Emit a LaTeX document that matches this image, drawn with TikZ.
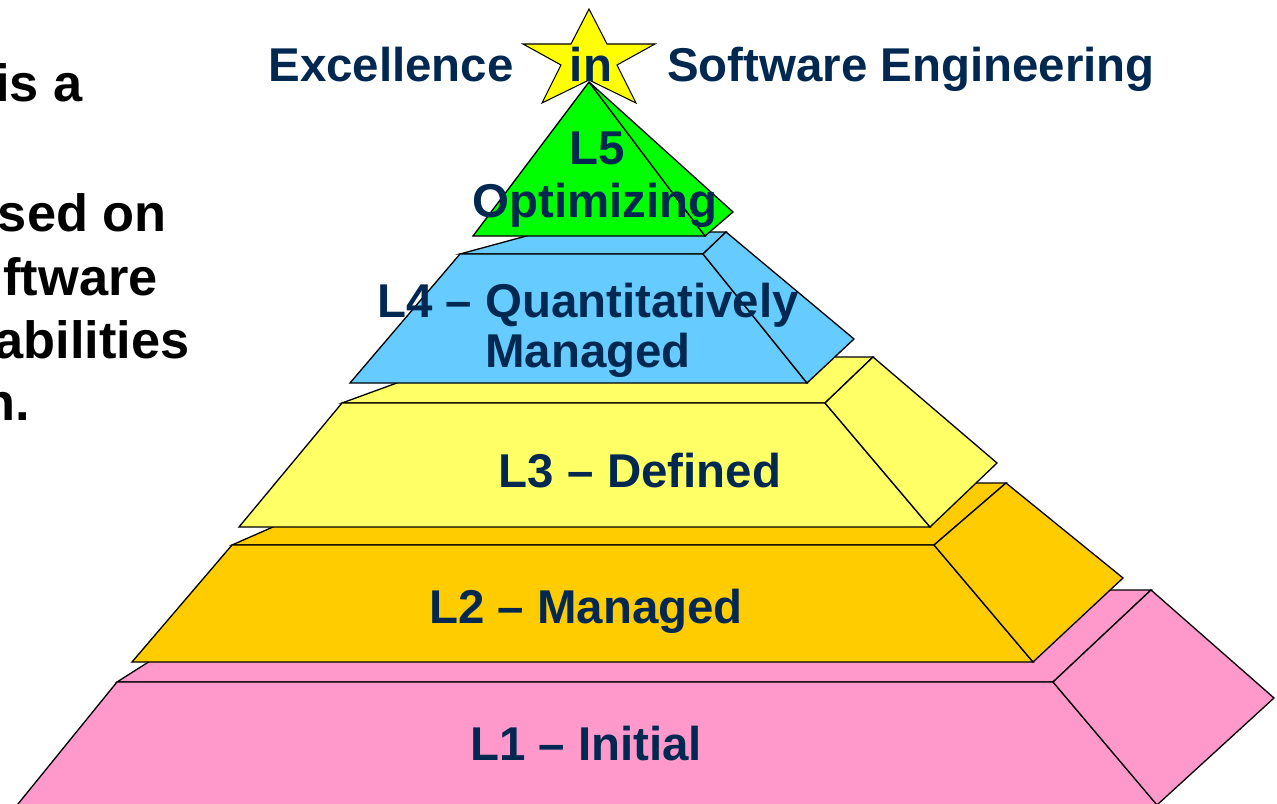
\documentclass[tikz,border=0pt]{standalone}
\usepackage{fontspec}
\setmainfont{Liberation Sans}
\definecolor{navy}{HTML}{002850}
\definecolor{lvlone}{HTML}{FF99CC}
\definecolor{lvltwo}{HTML}{FFCC00}
\definecolor{lvlthree}{HTML}{FFFF66}
\definecolor{lvlfour}{HTML}{66CCFF}
\definecolor{lvlfive}{HTML}{00FF00}
\definecolor{starfill}{HTML}{FFFF00}
\begin{document}
\begin{tikzpicture}[x=0.02cm,y=-0.02cm,
  face/.style={draw=black,line width=0.75pt,line join=miter},
  lbl/.style={text=navy,font=\fontsize{27}{30}\selectfont\bfseries,inner sep=0pt,anchor=base},
  side/.style={text=black,font=\fontsize{29.8}{33}\selectfont\bfseries,inner sep=0pt,anchor=base east}]
\useasboundingbox (0,0) rectangle (1277,804);
\clip (0,0) rectangle (1277,804);

% side text (continues beyond the left edge)
\node[side] (s1) at (83,102) {is a};
\node[side] (s2) at (167,232) {sed on};
\node[side] (s3) at (158,295) {ftware};
\node[side] (s4) at (190,358) {abilities};
\node[side] (s5) at (30,420) {n.};

% L1 block
\filldraw[face,fill=lvlone] (117,682) -- (1053,682) -- (1151,590) -- (262,590) -- cycle;
\filldraw[face,fill=lvlone] (117,682) -- (1053,682) -- (1170,820) -- (5,820) -- cycle;
\filldraw[face,fill=lvlone] (1053,682) -- (1151,590) -- (1274,698) -- (1157,805) -- cycle;

% L2 block
\filldraw[face,fill=lvltwo] (232,545) -- (934,545) -- (1006,483) -- (373,483) -- cycle;
\filldraw[face,fill=lvltwo] (232,545) -- (934,545) -- (1033,662) -- (132,662) -- cycle;
\filldraw[face,fill=lvltwo] (934,545) -- (1006,483) -- (1123,578) -- (1033,662) -- cycle;

% L3 block
\filldraw[face,fill=lvlthree] (342,403) -- (825,403) -- (873,357) -- (468,357) -- cycle;
\filldraw[face,fill=lvlthree] (342,403) -- (825,403) -- (930,527) -- (239,527) -- cycle;
\filldraw[face,fill=lvlthree] (825,403) -- (873,357) -- (997,463) -- (930,527) -- cycle;

% L4 block
\filldraw[face,fill=lvlfour] (460,254) -- (703,254) -- (726,232) -- (541,232) -- cycle;
\filldraw[face,fill=lvlfour] (460,254) -- (703,254) -- (807,383) -- (350,383) -- cycle;
\filldraw[face,fill=lvlfour] (703,254) -- (726,232) -- (854,339) -- (807,383) -- cycle;

% star on the top
\filldraw[face,line width=0.6pt,fill=starfill] (589,9) -- (607,44) -- (655,44) -- (617,65) -- (636,103)
  -- (589,80) -- (542,103) -- (561,65) -- (523,44) -- (571,44) -- cycle;

% L5 pyramid
\filldraw[face,fill=lvlfive] (589,82) -- (705,236) -- (473,236) -- cycle;
\filldraw[face,fill=lvlfive] (589,82) -- (733,212) -- (705,236) -- cycle;

% title
\node[lbl] (t1) at (391,82) {Excellence};
\node[lbl] (t2) at (591,82) {in};
\node[lbl] (t3) at (911,82) {Software Engineering};

% level labels
\node[lbl] (l5a) at (597,165) {L5};
\node[lbl] (l5b) at (595,217) {Optimizing};
\node[lbl] (l4a) at (588,317) {L4 – Quantitatively};
\node[lbl] (l4b) at (588,367) {Managed};
\node[lbl] (l3) at (640,487) {L3 – Defined};
\node[lbl] (l2) at (586,623) {L2 – Managed};
\node[lbl] (l1) at (586,760) {L1 – Initial};
\end{tikzpicture}
\end{document}
